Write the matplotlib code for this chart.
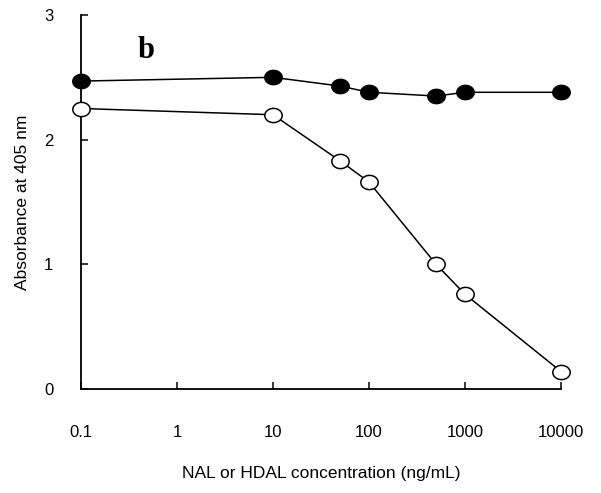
import numpy as np
import matplotlib.pyplot as plt
from matplotlib.path import Path

# concentrations (ng/mL)
conc = [0.1, 10, 50, 100, 500, 1000, 10000]
# absorbance at 405 nm
nal_abs = [2.47, 2.50, 2.43, 2.38, 2.35, 2.38, 2.38]    # filled circles
hdal_abs = [2.25, 2.20, 1.83, 1.66, 1.00, 0.76, 0.14]   # open circles

x_ticks = [0.1, 1, 10, 100, 1000, 10000]
x_tick_labels = ["0.1", "1", "10", "100", "1000", "10000"]
y_ticks = [0, 1, 2, 3]

plt.rcParams['font.family'] = ['Liberation Sans', 'DejaVu Sans']

# slightly flattened circle, like the original markers
t = np.linspace(0, 2 * np.pi, 60)
ellipse = Path(np.column_stack([np.cos(t), 0.82 * np.sin(t)]), closed=True)

fig = plt.figure(figsize=(6.01, 4.93), dpi=100)
ax = fig.add_axes([81 / 601, 104 / 493, 480 / 601, 374 / 493])

ax.plot(conc, nal_abs, color='black', lw=1.1, marker=ellipse, ms=12.5,
        mfc='black', mec='black', mew=1.1, clip_on=False, zorder=3)
ax.plot(conc, hdal_abs, color='black', lw=1.1, marker=ellipse, ms=12.5,
        mfc='white', mec='black', mew=1.1, clip_on=False, zorder=3)

ax.set_xscale('log')
ax.set_xlim(0.1, 10000)
ax.set_ylim(0, 3)
ax.set_xticks(x_ticks)
ax.set_xticklabels(x_tick_labels)
ax.minorticks_off()
ax.set_yticks(y_ticks)

for side in ['top', 'right']:
    ax.spines[side].set_visible(False)
for side in ['left', 'bottom']:
    ax.spines[side].set_linewidth(1.3)

ax.tick_params(axis='x', direction='in', length=5, width=1.1, pad=26, labelsize=12)
ax.tick_params(axis='y', direction='in', length=5, width=1.1, pad=20, labelsize=12)

ax.set_xlabel("NAL or HDAL concentration (ng/mL)", fontsize=12.5)
ax.xaxis.set_label_coords(0.5, -0.205)
ax.set_ylabel("Absorbance at 405 nm", fontsize=12.5)
ax.yaxis.set_label_coords(-0.107, 0.5)

ax.text(0.135, 0.906, "b", transform=ax.transAxes, fontsize=22,
        fontweight='bold', family='Liberation Serif', ha='center', va='center')

fig.savefig("out.png", dpi=100)
